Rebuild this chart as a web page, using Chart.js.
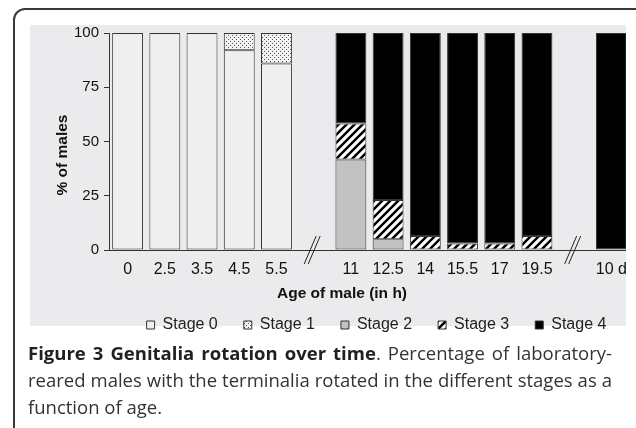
<!DOCTYPE html>
<html>
<head>
<meta charset="utf-8">
<script src="https://cdn.jsdelivr.net/npm/chart.js@4"></script>
<style>
  html, body { margin: 0; padding: 0; background: #fff; overflow: hidden; }
  body { width: 636px; height: 428px; position: relative; }
  #frame {
    position: absolute; left: 13px; top: 8px; width: 640px; height: 440px;
    border: 2px solid #3a3a3a; border-radius: 12px 12px 0 0; box-sizing: border-box;
  }
  #panel {
    position: absolute; left: 30px; top: 25px; width: 596px; height: 301px; background: #ebebed;
  }
  #wrap {
    position: absolute; left: 30px; top: 25px; width: 596px; height: 320px; overflow: hidden;
  }
  #caption {
    position: absolute; left: 28px; top: 339px; width: 584px;
    font-family: "Open Sans", sans-serif; font-size: 18.5px; line-height: 27px; color: #333;
  }
  #caption div { white-space: nowrap; }
  #caption .j { text-align: justify; text-align-last: justify; }
  #caption b { color: #231f20; }
</style>
</head>
<body>
<div id="frame"></div>
<div id="panel"></div>
<div id="wrap"><canvas id="chart" width="600" height="320"></canvas></div>
<div id="caption">
  <div class="j"><b>Figure 3 Genitalia rotation over time</b>. Percentage of laboratory-</div>
  <div class="j">reared males with the terminalia rotated in the different stages as a</div>
  <div>function of age.</div>
</div>
<script>
const ageLabels = ["0", "2.5", "3.5", "4.5", "5.5", "", "11", "12.5", "14", "15.5", "17", "19.5", "", "10 d"];
const stage0 = [100, 100, 100, 92, 86, null, null, null, null, null, null, null, null, null];
const stage1 = [null, null, null, 8, 14, null, null, null, null, null, null, null, null, null];
const stage2 = [null, null, null, null, null, null, 41.7, 5, null, null, null, null, null, null];
const stage3 = [null, null, null, null, null, null, 16.6, 18, 6.5, 3, 3, 6.5, null, null];
const stage4 = [null, null, null, null, null, null, 41.7, 77, 93.5, 97, 97, 93.5, null, 100];
const breakSlots = [5, 12];

function makePattern(size, draw) {
  const c = document.createElement("canvas");
  c.width = size;
  c.height = size;
  const g = c.getContext("2d");
  draw(g, size);
  return g.createPattern(c, "repeat");
}

const dotted = makePattern(4, (g, s) => {
  g.fillStyle = "#f2f2f2";
  g.fillRect(0, 0, s, s);
  g.fillStyle = "#555";
  g.fillRect(0, 0, 1, 1);
  g.fillRect(2, 2, 1, 1);
});

const hatched = makePattern(8, (g, s) => {
  g.fillStyle = "#fff";
  g.fillRect(0, 0, s, s);
  g.strokeStyle = "#000";
  g.lineWidth = 2.5;
  g.beginPath();
  g.moveTo(-2, s + 2); g.lineTo(s + 2, -2);
  g.moveTo(-2, 2); g.lineTo(2, -2);
  g.moveTo(s - 2, s + 2); g.lineTo(s + 2, s - 2);
  g.stroke();
});

// the two "//" axis breaks sit in the empty slots
const breakMarks = {
  id: "breakMarks",
  afterDraw(chart) {
    const ctx = chart.ctx;
    const x = chart.scales.x;
    const y0 = chart.scales.y.getPixelForValue(0);
    ctx.save();
    ctx.strokeStyle = "#222";
    ctx.lineWidth = 1;
    breakSlots.forEach(i => {
      const cx = x.getPixelForValue(i) - 1.5;
      [-2, 2].forEach(d => {
        ctx.beginPath();
        ctx.moveTo(cx + d + 6, y0 - 14);
        ctx.lineTo(cx + d - 6, y0 + 14);
        ctx.stroke();
      });
    });
    ctx.restore();
  }
};

const axisTitles = {
  id: "axisTitles",
  afterDraw(chart) {
    const ctx = chart.ctx;
    const a = chart.chartArea;
    ctx.save();
    ctx.fillStyle = "#111";
    ctx.font = "bold 15.5px 'Liberation Sans', Arial, sans-serif";
    ctx.textAlign = "center";
    ctx.textBaseline = "middle";
    ctx.fillText("Age of male (in h)", 312, a.bottom + 44);
    ctx.translate(a.left - 46.5, a.top + 122);
    ctx.rotate(-Math.PI / 2);
    ctx.fillText("% of males", 0, 0);
    ctx.restore();
  }
};

const legendShift = {
  id: "legendShift",
  afterLayout(chart) {
    const l = chart.legend;
    l.left += 7;
    l.right += 7;
    l.top += 4;
    l.bottom += 4;
  }
};

Chart.defaults.font.family = "'Liberation Sans', Arial, sans-serif";
Chart.defaults.color = "#111";

const barStyle = { borderColor: "#333", borderWidth: 1, borderSkipped: false };

new Chart(document.getElementById("chart"), {
  type: "bar",
  data: {
    labels: ageLabels,
    datasets: [
      { label: "Stage 0", data: stage0, backgroundColor: "#efefef", ...barStyle },
      { label: "Stage 1", data: stage1, backgroundColor: dotted, ...barStyle },
      { label: "Stage 2", data: stage2, backgroundColor: "#c2c2c2", ...barStyle },
      { label: "Stage 3", data: stage3, backgroundColor: hatched, ...barStyle },
      { label: "Stage 4", data: stage4, backgroundColor: "#000", ...barStyle },
    ],
  },
  options: {
    responsive: false,
    animation: false,
    categoryPercentage: 1,
    barPercentage: 0.83,
    layout: { padding: { top: 8, left: 0, right: 0, bottom: 6 } },
    plugins: {
      legend: {
        position: "bottom",
        fullSize: false,
        labels: {
          boxWidth: 8,
          boxHeight: 8,
          padding: 26,
          font: { size: 16 },
          color: "#222",
        },
      },
      tooltip: { enabled: false },
    },
    scales: {
      x: {
        stacked: true,
        grid: { display: false },
        border: { display: true, color: "#333", width: 1 },
        ticks: { font: { size: 16 }, padding: 2, maxRotation: 0, autoSkip: false },
        afterFit(scale) {
          scale.height = 37;
          scale.paddingLeft = 0;
          scale.paddingRight = 0;
        },
      },
      y: {
        stacked: true,
        min: 0,
        max: 100,
        grid: { display: true, drawOnChartArea: false, drawTicks: true, tickLength: 5, color: "#333" },
        border: { display: true, color: "#333", width: 1 },
        ticks: { stepSize: 25, font: { size: 15, lineHeight: 1 }, padding: 5 },
        afterFit(scale) {
          scale.width = 79;
          scale.paddingTop = 0;
          scale.paddingBottom = 0;
        },
      },
    },
  },
  plugins: [breakMarks, axisTitles, legendShift],
});
</script>
</body>
</html>
